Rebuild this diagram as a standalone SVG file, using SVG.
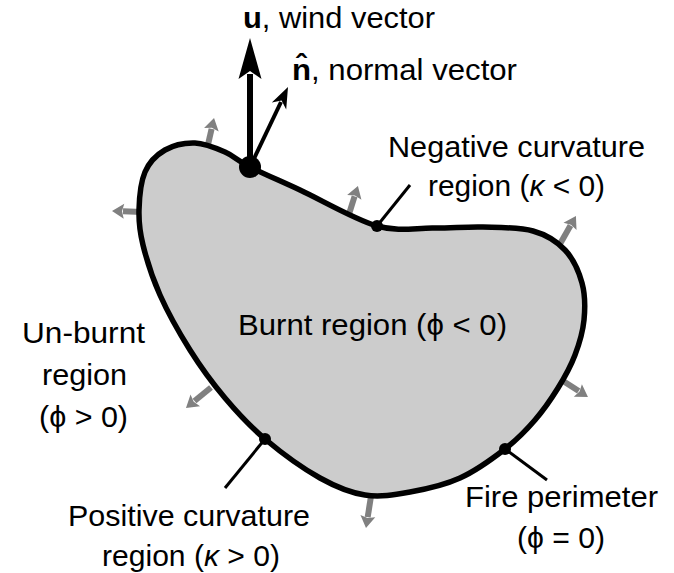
<svg xmlns="http://www.w3.org/2000/svg" width="674" height="573" viewBox="0 0 674 573">
<style>
text{font-family:"Liberation Sans","DejaVu Sans",sans-serif;font-size:30px;fill:#000}
.g{stroke:#808080;stroke-width:6;fill:none;marker-end:url(#gh)}
.lead{stroke:#000;stroke-width:3;fill:none}
.b{font-weight:bold}
</style>
<defs>
<marker id="gh" markerUnits="userSpaceOnUse" markerWidth="16" markerHeight="16" refX="1" refY="0" orient="auto" viewBox="0 -8 13 16" overflow="visible">
<path d="M0,-7.5 L12,0 L0,7.5 L2,0 Z" fill="#808080"/>
</marker>
</defs>
<rect width="674" height="573" fill="#fff"/>
<g id="normals">
<line class="g" x1="207" y1="149" x2="211.6" y2="128.8"/>
<line class="g" x1="142" y1="212" x2="123" y2="211.3"/>
<line class="g" x1="211" y1="387.5" x2="194.5" y2="401"/>
<line class="g" x1="371.5" y1="493" x2="367.7" y2="517.1"/>
<line class="g" x1="560" y1="379" x2="578.7" y2="391"/>
<line class="g" x1="560" y1="244" x2="570.5" y2="225.5"/>
<line class="g" x1="349" y1="214" x2="354.6" y2="196.4"/>
</g>
<g id="burnt-region">
<path d="M250,167 C262.5,173.3 278.8,180.2 300,190 C321.2,199.8 354.8,219.7 377,226 C399.2,232.3 415.3,227.8 433,228 C450.7,228.2 466.3,226.5 483,227 C499.7,227.5 519.3,227.2 533,231 C546.7,234.8 556.8,241.3 565,250 C573.2,258.7 578.8,271.3 582,283 C585.2,294.7 585.2,308 584,320 C582.8,332 579.3,343.7 575,355 C570.7,366.3 564.7,377.2 558,388 C551.3,398.8 543.8,409.8 535,420 C526.2,430.2 517.5,439.3 505,449 C492.5,458.7 475.8,470.8 460,478 C444.2,485.2 425.8,489.2 410,492 C394.2,494.8 380,497.3 365,495 C350,492.7 336.7,487.3 320,478 C303.3,468.7 280.8,452.3 265,439 C249.2,425.7 237.5,412.8 225,398 C212.5,383.2 200.8,367.2 190,350 C179.2,332.8 167.8,312.5 160,295 C152.2,277.5 146.5,259.2 143,245 C139.5,230.8 138.7,222.2 139,210 C139.3,197.8 140.7,182 145,172 C149.3,162 156.7,154.8 165,150 C173.3,145.2 185,142.7 195,143 C205,143.3 215.8,148 225,152 C234.2,156 237.5,160.7 250,167 Z" fill="#cccccc" stroke="#000" stroke-width="5.5" stroke-linejoin="round"/>
<text x="238" y="335" textLength="269" lengthAdjust="spacingAndGlyphs">Burnt region (ϕ &lt; 0)</text>
</g>
<g id="connectors">
<line class="lead" x1="377" y1="226" x2="410" y2="185"/>
<line class="lead" x1="265" y1="439" x2="225" y2="488"/>
<line class="lead" x1="505" y1="449" x2="547" y2="480"/>
<line x1="250" y1="167" x2="250" y2="74" stroke="#000" stroke-width="6"/>
<polygon points="250,38 261.5,79 250,71 238.5,79" fill="#000"/>
<line x1="250" y1="167" x2="281" y2="102" stroke="#000" stroke-width="4"/>
<polygon points="288,87 286.2,109.4 281.6,100.5 271.8,102.6" fill="#000"/>
</g>
<g id="points">
<circle cx="250" cy="167" r="11" fill="#000"/>
<circle cx="377" cy="226" r="6" fill="#000"/>
<circle cx="265" cy="439" r="6" fill="#000"/>
<circle cx="505" cy="449" r="6" fill="#000"/>
</g>
<g id="label-u">
<text x="243" y="28" textLength="192" lengthAdjust="spacingAndGlyphs"><tspan class="b">u</tspan>, wind vector</text>
</g>
<g id="label-n">
<text x="292" y="80" textLength="225" lengthAdjust="spacingAndGlyphs"><tspan class="b">n̂</tspan>, normal vector</text>
</g>
<g id="label-negative">
<text x="388" y="157" textLength="257" lengthAdjust="spacingAndGlyphs">Negative curvature</text>
<text x="428" y="196" textLength="177" lengthAdjust="spacingAndGlyphs">region (<tspan font-style="italic">κ</tspan> &lt; 0)</text>
</g>
<g id="label-unburnt">
<text x="22" y="343" textLength="123" lengthAdjust="spacingAndGlyphs">Un-burnt</text>
<text x="42" y="385" textLength="85" lengthAdjust="spacingAndGlyphs">region</text>
<text x="39" y="427" textLength="89" lengthAdjust="spacingAndGlyphs">(ϕ &gt; 0)</text>
</g>
<g id="label-positive">
<text x="68" y="526" textLength="242" lengthAdjust="spacingAndGlyphs">Positive curvature</text>
<text x="102" y="566" textLength="178" lengthAdjust="spacingAndGlyphs">region (<tspan font-style="italic">κ</tspan> &gt; 0)</text>
</g>
<g id="label-fire">
<text x="465" y="507" textLength="193" lengthAdjust="spacingAndGlyphs">Fire perimeter</text>
<text x="517" y="548" textLength="88" lengthAdjust="spacingAndGlyphs">(ϕ = 0)</text>
</g>
</svg>
